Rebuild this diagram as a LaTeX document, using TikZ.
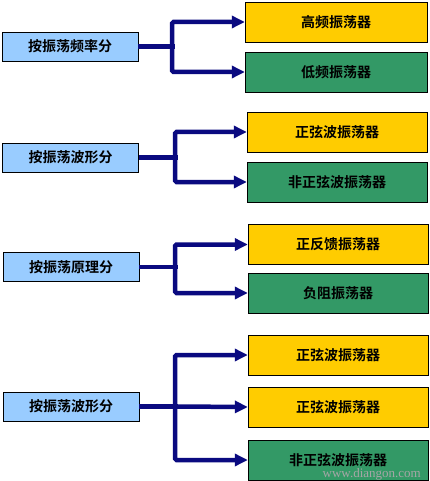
\documentclass[tikz,border=0pt]{standalone}
\usepackage{fontspec}
\usepackage{xcolor}
\usepackage{tikz}
\usetikzlibrary{arrows.meta, positioning}
\newfontfamily\cjk{Noto Sans CJK SC Bold}
\newfontfamily\wmfont{Liberation Serif}
\definecolor{kindblue}{HTML}{99CCFF}
\definecolor{kindgold}{HTML}{FFCC00}
\definecolor{kindgreen}{HTML}{339966}
\definecolor{linknavy}{HTML}{0A0A80}

\begin{document}
\begin{tikzpicture}[
  x=1pt, y=-1pt,
  src/.style={draw, fill=kindblue, minimum width=136pt, minimum height=29pt, inner sep=0pt, font=\cjk\fontsize{14}{16}\selectfont},
  osc/.style={draw, minimum width=180pt, minimum height=40pt, inner sep=0pt, font=\cjk\fontsize{14}{16}\selectfont},
  bar/.style={draw=linknavy, line width=4.5pt, rounded corners=1.5pt},
  arr/.style={bar, -{Triangle[length=13pt, width=12pt]}}
]
  \useasboundingbox (0,0) rectangle (430,481);

  \node[src] (freq) at (70,46.5) {按振荡频率分};
  \node[osc, fill=kindgold, minimum width=182pt] (hf) at (336,22) {高频振荡器};
  \node[osc, fill=kindgreen, minimum width=182pt] (lf) at (336,72) {低频振荡器};
  \coordinate (j1) at (172,46.5);

  \node[src] (wave) at (70.5,157.5) {按振荡波形分};
  \node[osc, fill=kindgold] (sine) at (337,132) {正弦波振荡器};
  \node[osc, fill=kindgreen] (nsine) at (337,182) {非正弦波振荡器};
  \coordinate (j2) at (175,157.5);

  \node[src] (prin) at (71,267) {按振荡原理分};
  \node[osc, fill=kindgold] (fb) at (338,244.5) {正反馈振荡器};
  \node[osc, fill=kindgreen] (nr) at (338,293) {负阻振荡器};
  \coordinate (j3) at (175,267);

  \node[src] (wave2) at (71,406.5) {按振荡波形分};
  \node[osc, fill=kindgold] (sine2) at (338,355) {正弦波振荡器};
  \node[osc, fill=kindgold] (sine3) at (338,407) {正弦波振荡器};
  \node[osc, fill=kindgreen] (nsine2) at (338,460) {非正弦波振荡器};
  \coordinate (j4) at (175,406.5);

  \draw[bar] (freq.east) -- ([xshift=3pt]j1);
  \draw[arr] (j1) |- (hf.west);
  \draw[arr] (j1) |- (lf.west);

  \draw[bar] (wave.east) -- ([xshift=3pt]j2);
  \draw[arr] (j2) |- (sine.west);
  \draw[arr] (j2) |- (nsine.west);

  \draw[bar] (prin.east) -- ([xshift=3pt]j3);
  \draw[arr] (j3) |- (fb.west);
  \draw[arr] (j3) |- (nr.west);

  \draw[bar] (wave2.east) -- ([xshift=3pt]j4);
  \draw[arr] (j4) |- (sine2.west);
  \draw[arr] (j4) -- (sine3.west);
  \draw[arr] (j4) |- (nsine2.west);

  \node[font=\wmfont\fontsize{13}{15}\selectfont, text=gray!70, anchor=base east, inner sep=0pt] (mark) at (421,477) {www.diangon.com};
\end{tikzpicture}
\end{document}
